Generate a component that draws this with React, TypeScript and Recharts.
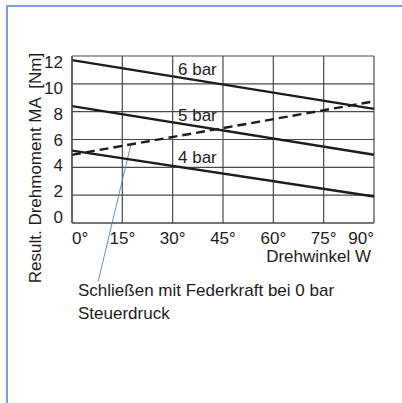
/**
 * Drehmoment chart — resulting torque vs. rotation angle for 4/5/6 bar,
 * plus spring-return closing curve (dashed).
 */
import { LineChart, Line, XAxis, YAxis, CartesianGrid, ReferenceLine } from "recharts";

// ─── Data ─────────────────────────────────────────────────────────────────────

const angleTicks = [0, 15, 30, 45, 60, 75, 90];
const torqueTicks = [0, 2, 4, 6, 8, 10, 12];

const bar6 = [
  { w: 0, ma: 11.7 },
  { w: 90, ma: 8.2 },
];
const bar5 = [
  { w: 0, ma: 8.4 },
  { w: 90, ma: 4.9 },
];
const bar4 = [
  { w: 0, ma: 5.2 },
  { w: 90, ma: 1.9 },
];
const spring = [
  { w: 0, ma: 4.9 },
  { w: 89, ma: 8.7 },
];

// leader line from dashed curve to the note below the chart
const leader = [
  { x: 17.5, y: 5.6 },
  { x: 7.8, y: -4.2 },
];

const FONT = "'Liberation Sans', Arial, sans-serif";
const INK = "#1c1c1c";
const GRID = "#4a4a4a";
const BLUE = "#7fa1d4";
const FS = 17;

// ─── Ticks ────────────────────────────────────────────────────────────────────

function AngleTick({ x, y, payload }: any) {
  const v = payload.value;
  const anchor = v === 0 ? "start" : v === 90 ? "end" : "middle";
  return (
    <text x={x} y={y + 13} textAnchor={anchor} fontSize={FS} fill={INK} fontFamily={FONT}>
      {v}°
    </text>
  );
}

function TorqueTick({ x, y, payload }: any) {
  // labels sit slightly compressed toward the middle of the axis
  const mid = 139.5;
  const yy = mid + (y - mid) * 0.93;
  return (
    <text x={x - 1} y={yy + 6} textAnchor="end" fontSize={FS} fill={INK} fontFamily={FONT}>
      {payload.value}
    </text>
  );
}

// ─── Component ────────────────────────────────────────────────────────────────

export default function App() {
  const label = (top: number, left: number, text: string) => (
    <div
      style={{
        position: "absolute",
        top,
        left,
        fontSize: FS,
        lineHeight: 1,
        color: INK,
        fontFamily: FONT,
        whiteSpace: "nowrap",
      }}
    >
      {text}
    </div>
  );

  return (
    <div
      style={{
        position: "absolute",
        left: 0,
        top: 0,
        width: 402,
        height: 403,
        background: "#fff",
        fontFamily: FONT,
        overflow: "hidden",
      }}
    >
      {/* panel border */}
      <div
        style={{
          position: "absolute",
          left: 6,
          top: 5,
          width: 420,
          height: 420,
          borderLeft: `2px solid ${BLUE}`,
          borderTop: `2px solid ${BLUE}`,
        }}
      />

      <div style={{ position: "absolute", left: 0, top: 0 }}>
        <LineChart
          width={402}
          height={403}
          margin={{ top: 56, right: 28, bottom: 150, left: 0 }}
        >
          <CartesianGrid stroke={GRID} strokeWidth={1.2} />
          <XAxis
            type="number"
            dataKey="w"
            domain={[0, 90]}
            ticks={angleTicks}
            interval={0}
            tick={<AngleTick />}
            tickLine={false}
            axisLine={{ stroke: GRID, strokeWidth: 1.2 }}
            height={30}
            allowDuplicatedCategory={false}
          />
          <YAxis
            type="number"
            domain={[0, 12]}
            ticks={torqueTicks}
            interval={0}
            tick={<TorqueTick />}
            tickLine={false}
            axisLine={{ stroke: GRID, strokeWidth: 1.2 }}
            width={72}
          />
          <ReferenceLine segment={leader} stroke="#5a8fd3" strokeWidth={1} ifOverflow="visible" />
          <Line data={bar6} dataKey="ma" stroke={INK} strokeWidth={2.4} dot={false} isAnimationActive={false} />
          <Line data={bar5} dataKey="ma" stroke={INK} strokeWidth={2.4} dot={false} isAnimationActive={false} />
          <Line data={bar4} dataKey="ma" stroke={INK} strokeWidth={2.4} dot={false} isAnimationActive={false} />
          <Line
            data={spring}
            dataKey="ma"
            stroke={INK}
            strokeWidth={2.4}
            strokeDasharray="9 5"
            dot={false}
            isAnimationActive={false}
          />
        </LineChart>
      </div>

      {/* y-axis title */}
      <svg
        width={60}
        height={403}
        style={{ position: "absolute", left: 0, top: 0, pointerEvents: "none" }}
      >
        <text
          x={35}
          y={168}
          transform="rotate(-90 35 168)"
          textAnchor="middle"
          dominantBaseline="central"
          fontSize={FS}
          fill={INK}
          fontFamily={FONT}
          style={{ whiteSpace: "pre" }}
        >
          {"Result. Drehmoment MA  [Nm]"}
        </text>
      </svg>

      {label(61, 178, "6 bar")}
      {label(107, 178, "5 bar")}
      {label(149, 178, "4 bar")}
      <div
        style={{
          position: "absolute",
          top: 248,
          right: 402 - 371,
          fontSize: FS,
          lineHeight: 1,
          color: INK,
          fontFamily: FONT,
        }}
      >
        Drehwinkel W
      </div>
      {label(282, 78, "Schließen mit Federkraft bei 0 bar")}
      {label(305, 78, "Steuerdruck")}
    </div>
  );
}
